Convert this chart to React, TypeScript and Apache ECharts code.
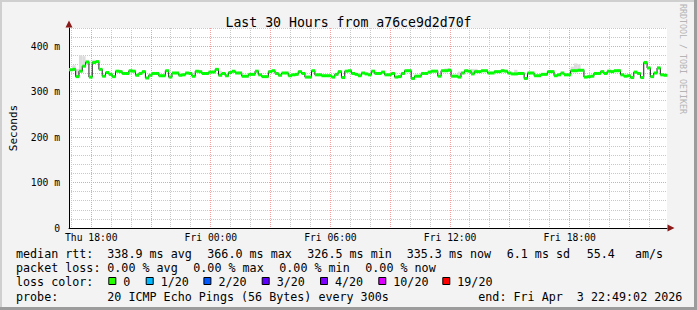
import React, { useEffect, useRef } from "react";
import * as echarts from "echarts";

const chartTitle = "Last 30 Hours from a76ce9d2d70f";
const axisName = "Seconds";
const watermark = "RRDTOOL / TOBI OETIKER";
// minutes relative to Thu 18:00
const xStartMin = -67;
const xEndMin = 1733;
const stepMin = 10;
const yMax = 440;
// first and last full hour inside the plot
const hourFirst = -60;
const hourLast = 1680;

const median: number[] = [
  348, 349, 333, 345, 356, 365, 332, 364, 366, 349,
  334, 342, 338, 333, 345, 344, 340, 340, 346, 345,
  336, 340, 344, 330, 336, 340, 340, 335, 335, 346,
  332, 341, 341, 336, 337, 341, 340, 334, 345, 344,
  340, 340, 343, 343, 349, 336, 340, 335, 342, 345,
  341, 341, 334, 334, 338, 338, 345, 337, 333, 333,
  344, 346, 340, 336, 341, 341, 335, 337, 338, 344,
  340, 332, 332, 346, 337, 337, 335, 335, 335, 332,
  338, 344, 331, 345, 346, 340, 338, 335, 341, 339,
  337, 345, 340, 340, 343, 337, 337, 340, 332, 333,
  340, 346, 346, 329, 334, 334, 340, 340, 343, 345,
  345, 334, 346, 346, 347, 334, 334, 332, 341, 346,
  345, 339, 344, 344, 346, 346, 341, 341, 344, 344,
  346, 345, 341, 339, 339, 340, 340, 329, 341, 341,
  335, 335, 338, 338, 344, 344, 335, 337, 341, 337,
  337, 346, 346, 347, 347, 332, 333, 334, 340, 340,
  344, 340, 345, 344, 346, 346, 337, 334, 335, 331,
  343, 340, 331, 364, 352, 333, 341, 352, 337, 336,
];

// [sample index, top of smoke]
const smokeTop: [number, number][] = [
  [0, 352], [1, 358], [2, 350], [3, 380], [4, 378], [5, 370], [7, 370], [8, 368],
  [44, 352], [45, 346], [113, 351], [114, 352], [117, 344], [121, 350], [122, 350],
  [130, 350], [134, 348], [151, 355], [152, 362], [153, 360], [165, 350], [173, 368], [177, 356],
];

const xTickValues = [0, 360, 720, 1080, 1440];
const xTickLabels = ["Thu 18:00", "Fri 00:00", "Fri 06:00", "Fri 12:00", "Fri 18:00"];

const statsRow1 = ["median rtt:", "338.9 ms avg", "366.0 ms max", "326.5 ms min", "335.3 ms now", "6.1 ms sd", "55.4", "am/s"];
const statsRow1X = [16, 107.3, 207.3, 307.3, 406.7, 506.7, 586.7, 635];
const statsRow2 = ["packet loss:", "0.00 % avg", "0.00 % max", "0.00 % min", "0.00 % now"];
const statsRow2X = [16, 107.3, 193.3, 279.3, 365.3];
const lossLabels = ["0", "1/20", "2/20", "3/20", "4/20", "10/20", "19/20"];
const lossColors = ["#26ff00", "#00b8ff", "#0059ff", "#5e00ff", "#7e00ff", "#dd00ff", "#ff0000"];
const lossBoxX = [108.3, 145.7, 203.4, 261.7, 320, 378.3, 442.3];
const probeRow = ["probe:", "20 ICMP Echo Pings (56 Bytes) every 300s", "end: Fri Apr  3 22:49:02 2026"];
const probeRowX = [16, 107.3, 478.3];

const MONO = '"DejaVu Sans Mono", monospace';
const GRID_MINOR = "#c8c8c8";
const GRID_MAJOR = "#f4a0a0";

export default function App() {
  const ref = useRef<HTMLDivElement>(null);
  useEffect(() => {
    document.body.style.margin = "0";
    if (!ref.current) return;
    const chart = echarts.init(ref.current, null, { renderer: "svg" });

    const startOf = (i: number) => xStartMin + i * stepMin;
    const lineData: [number, number][] = median.map((v, i) => [startOf(i), v]);
    lineData.push([xEndMin, median[median.length - 1]]);
    const bandData = median.map((v, i) => [startOf(i), v]);
    const smokeData = smokeTop.map(([i, top]) => [startOf(i), median[i], top]);

    const hourData: number[][] = [];
    for (let t = hourFirst; t <= hourLast; t += 60) {
      const hr = ((t / 60) % 24 + 24) % 24;
      hourData.push([t, 220, hr % 3 === 0 ? 1 : 0]);
    }

    const txt = (text: string, x: number, y: number, size = 11.7, extra: any = {}) => ({
      type: "text",
      x,
      y,
      silent: true,
      style: { text, font: `${size}px ${MONO}`, fill: "#000", align: "left", verticalAlign: "middle", ...extra },
    });

    const graphics: any[] = [];
    graphics.push({ type: "rect", shape: { x: 0, y: 0, width: 697, height: 2 }, style: { fill: "#cfcfcf" }, silent: true });
    graphics.push({ type: "rect", shape: { x: 0, y: 0, width: 2, height: 310 }, style: { fill: "#cfcfcf" }, silent: true });
    graphics.push({ type: "rect", shape: { x: 0, y: 307, width: 697, height: 3 }, style: { fill: "#9c9c9c" }, silent: true });
    graphics.push({ type: "rect", shape: { x: 694, y: 0, width: 3, height: 310 }, style: { fill: "#9c9c9c" }, silent: true });
    statsRow1.forEach((s, k) => graphics.push(txt(s, statsRow1X[k], 254)));
    statsRow2.forEach((s, k) => graphics.push(txt(s, statsRow2X[k], 268.3)));
    graphics.push(txt("loss color:", 16, 282.3));
    lossLabels.forEach((s, k) => {
      graphics.push({
        type: "rect",
        silent: true,
        shape: { x: lossBoxX[k] + 0.5, y: 277.5, width: 7, height: 7 },
        style: { fill: lossColors[k], stroke: "#000", lineWidth: 1 },
      });
      graphics.push(txt(s, lossBoxX[k] + 15, 282.3));
    });
    probeRow.forEach((s, k) => graphics.push(txt(s, probeRowX[k], 296.7)));
    graphics.push({
      type: "text",
      x: 683,
      y: 4,
      rotation: -Math.PI / 2,
      silent: true,
      style: { text: watermark, font: `8.3px ${MONO}`, fill: "#b4b4b4", align: "left", verticalAlign: "middle" },
    });

    chart.setOption({
      animation: false,
      backgroundColor: "#f3f3f3",
      title: {
        text: chartTitle,
        left: "center",
        top: 11,
        textStyle: { fontFamily: MONO, fontSize: 13.2, fontWeight: "normal", color: "#000" },
      },
      grid: {
        left: 67,
        top: 28,
        width: 600,
        height: 200,
        show: true,
        backgroundColor: "#ffffff",
        borderWidth: 0,
      },
      xAxis: {
        type: "value",
        min: xStartMin,
        max: xEndMin,
        splitLine: { show: false },
        axisTick: { show: false },
        axisLine: { show: true, onZero: false, lineStyle: { color: "#000", width: 1 } },
        axisLabel: {
          customValues: xTickValues,
          formatter: (v: number) => {
            const k = xTickValues.indexOf(v);
            return k >= 0 ? xTickLabels[k] : "";
          },
          fontFamily: MONO,
          fontSize: 9.7,
          color: "#000",
          margin: 4,
        },
      },
      yAxis: {
        type: "value",
        min: 0,
        max: yMax,
        interval: 20,
        name: axisName,
        nameLocation: "middle",
        nameGap: 50,
        nameTextStyle: { fontFamily: MONO, fontSize: 11, color: "#000" },
        axisTick: { show: false },
        axisLine: { show: true, onZero: false, lineStyle: { color: "#000", width: 1 } },
        splitLine: {
          show: true,
          lineStyle: {
            type: [1, 1],
            width: 1,
            color: [GRID_MAJOR, GRID_MINOR, GRID_MINOR, GRID_MINOR, GRID_MINOR],
          },
        },
        axisLabel: {
          formatter: (v: number) => (v % 100 === 0 ? (v === 0 ? "0" : `${v} m`) : ""),
          fontFamily: MONO,
          fontSize: 9.7,
          color: "#000",
          margin: 9,
        },
      },
      graphic: graphics,
      series: [
        {
          type: "custom",
          silent: true,
          z: 2,
          data: hourData,
          renderItem: (params: any, api: any) => {
            const t = api.value(0);
            const major = api.value(2) === 1;
            const pb = api.coord([t, 0]);
            const pt = api.coord([t, yMax]);
            const x = Math.floor(pb[0]);
            const children: any[] = [];
            for (let y = Math.round(pt[1]); y < pb[1] - 0.5; y += 2) {
              children.push({
                type: "rect",
                shape: { x, y, width: 1, height: 1 },
                style: { fill: major ? GRID_MAJOR : GRID_MINOR },
              });
            }
            return { type: "group", children };
          },
        },
        {
          type: "line",
          data: [],
          silent: true,
          z: 2,
          markPoint: {
            silent: true,
            label: { show: false },
            data: [
              { coord: [xEndMin, 0], symbol: "triangle", symbolSize: [7, 7], symbolRotate: -90, symbolOffset: [4, 0], itemStyle: { color: "#8b1a1a" } },
              { coord: [xStartMin, yMax], symbol: "triangle", symbolSize: [7, 7], symbolOffset: [0, -4], itemStyle: { color: "#8b1a1a" } },
            ],
          },
        },
        {
          type: "custom",
          silent: true,
          z: 3,
          data: smokeData,
          renderItem: (params: any, api: any) => {
            const s = api.value(0);
            const lo = api.coord([s, api.value(1)]);
            const hi = api.coord([s + stepMin, api.value(2)]);
            return {
              type: "rect",
              shape: { x: lo[0], y: hi[1], width: hi[0] - lo[0], height: lo[1] - hi[1] },
              style: { fill: "#dcdcdc" },
            };
          },
        },
        {
          type: "line",
          step: "end",
          silent: true,
          z: 4,
          symbol: "none",
          data: lineData,
          lineStyle: { color: "#202020", width: 1 },
        },
        {
          type: "custom",
          silent: true,
          z: 5,
          data: bandData,
          renderItem: (params: any, api: any) => {
            const s = api.value(0);
            const p0 = api.coord([s, api.value(1)]);
            const p1 = api.coord([s + stepMin, api.value(1)]);
            return {
              type: "rect",
              shape: { x: p0[0], y: p0[1] - 1.5, width: p1[0] - p0[0] + 0.3, height: 3 },
              style: { fill: "#00ff00" },
            };
          },
        },
      ],
    });
    return () => chart.dispose();
  }, []);
  return <div ref={ref} style={{ width: 697, height: 310 }} />;
}
